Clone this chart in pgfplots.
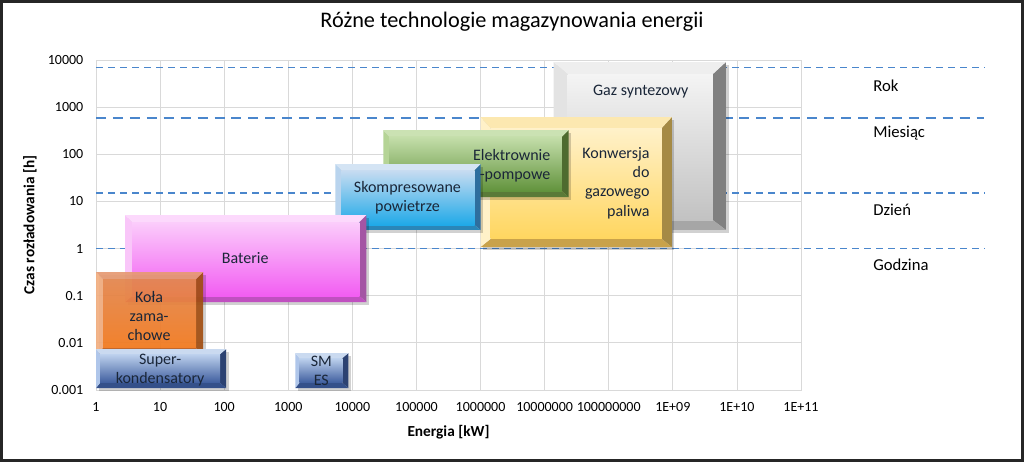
\documentclass[border=0pt]{standalone}
\usepackage{pgfplots}
\pgfplotsset{compat=1.18}
\usepackage{fontspec}
\setmainfont{Carlito}

\definecolor{gridc}{HTML}{D9D9D9}
\definecolor{dashc}{HTML}{4A86CC}
\definecolor{txt}{HTML}{1A2638}
% gaz syntezowy
\definecolor{gazT}{HTML}{F4F4F4}\definecolor{gazB}{HTML}{C2C2C2}
\definecolor{gazU}{HTML}{EEEEEE}\definecolor{gazL}{HTML}{E3E3E3}
\definecolor{gazR}{HTML}{808080}\definecolor{gazD}{HTML}{A6A6A6}
% konwersja
\definecolor{konT}{HTML}{FFF1CA}\definecolor{konB}{HTML}{FFD65F}
\definecolor{konU}{HTML}{FCE8B0}\definecolor{konL}{HTML}{FFF1C8}
\definecolor{konR}{HTML}{A58A45}\definecolor{konD}{HTML}{C9A24A}
% elektrownie pompowe
\definecolor{eleT}{HTML}{C4DEAA}\definecolor{eleB}{HTML}{62933D}
\definecolor{eleU}{HTML}{CBE2B3}\definecolor{eleL}{HTML}{B5D496}
\definecolor{eleR}{HTML}{4E6B2F}\definecolor{eleD}{HTML}{5A7A38}
% skompresowane powietrze
\definecolor{skoT}{HTML}{C8DCF1}\definecolor{skoB}{HTML}{1FA9E8}
\definecolor{skoU}{HTML}{D4E4F4}\definecolor{skoL}{HTML}{B9D4EE}
\definecolor{skoR}{HTML}{2E6E9E}\definecolor{skoD}{HTML}{2A86B8}
% baterie
\definecolor{batT}{HTML}{FBCDFB}\definecolor{batB}{HTML}{F25DF2}
\definecolor{batU}{HTML}{FCD9FC}\definecolor{batL}{HTML}{F9C6F9}
\definecolor{batR}{HTML}{A455A4}\definecolor{batD}{HTML}{C050C0}
% kola zamachowe
\definecolor{kolT}{HTML}{E6884F}\definecolor{kolB}{HTML}{F57B1E}
\definecolor{kolU}{HTML}{E69A72}\definecolor{kolL}{HTML}{F2AE80}
\definecolor{kolR}{HTML}{A24E12}\definecolor{kolD}{HTML}{C06020}
% superkondensatory / SMES
\definecolor{supT}{HTML}{BED2EE}\definecolor{supB}{HTML}{3E5D9E}
\definecolor{supU}{HTML}{CADAF0}\definecolor{supL}{HTML}{AFC6EA}
\definecolor{supR}{HTML}{2C4272}\definecolor{supD}{HTML}{34508A}

\tikzset{
  gazO/.style={}, konO/.style={}, eleO/.style={}, skoO/.style={},
  batO/.style={}, kolO/.style={fill opacity=0.92}, supO/.style={},
  boxtxt/.style={font=\fontsize{12}{14.4}\selectfont, text=txt, inner sep=0pt},
  sidetxt/.style={font=\fontsize{12.5}{15}\selectfont, anchor=west, inner sep=0pt},
}

% outer x1,y1,x2,y2 ; inner a1,b1,a2,b2 ; colour prefix
\newcommand{\bevbox}[9]{%
  \addplot[draw=none, fill=black, fill opacity=0.18, xshift=2pt, yshift=-2pt]
    coordinates {(#1,#2) (#3,#2) (#3,#4) (#1,#4)};
  \addplot[draw=none, fill=#9R, #9O] coordinates {(#3,#2) (#3,#4) (#7,#8) (#7,#6)};
  \addplot[draw=none, fill=#9D, #9O] coordinates {(#1,#2) (#3,#2) (#7,#6) (#5,#6)};
  \addplot[draw=none, fill=#9L, #9O] coordinates {(#1,#2) (#5,#6) (#5,#8) (#1,#4)};
  \addplot[draw=none, fill=#9U, #9O] coordinates {(#1,#4) (#3,#4) (#7,#8) (#5,#8)};
  \addplot[draw=none, top color=#9T, bottom color=#9B, #9O]
    coordinates {(#5,#6) (#7,#6) (#7,#8) (#5,#8)};
}

\begin{document}
\begin{tikzpicture}
\useasboundingbox (0,0) rectangle (768pt,346.5pt);
\fill[white] (0,0) rectangle (768pt,346.5pt);

\begin{axis}[
    at={(72pt,54pt)}, anchor=south west,
    scale only axis, width=528.75pt, height=247.5pt,
    xmode=log, ymode=log,
    xmin=1, xmax=1e11, ymin=0.001, ymax=10000,
    xtick={1,10,100,1000,10000,100000,1000000,1e7,1e8,1e9,1e10,1e11},
    xticklabels={1,10,100,1000,10000,100000,1000000,10000000,100000000,1E+09,1E+10,1E+11},
    ytick={0.001,0.01,0.1,1,10,100,1000,10000},
    yticklabels={0.001,0.01,0.1,1,10,100,1000,10000},
    minor xtick={}, minor ytick={},
    grid=major, major grid style={draw=gridc, line width=0.6pt},
    axis line style={draw=gridc, line width=0.6pt},
    tick style={draw=none},
    tick label style={font=\fontsize{10.5}{12}\selectfont},
    xticklabel style={yshift=-6pt},
    yticklabel style={xshift=-6pt},
    xlabel={\textbf{Energia [kW]}},
    ylabel={\textbf{Czas rozładowania [h]}},
    label style={font=\fontsize{11.5}{13}\selectfont},
    xlabel style={at={(axis description cs:0.5,-0.1293)}, anchor=center},
    ylabel style={at={(axis description cs:-0.0936,0.5)}, anchor=center},
    clip=false,
]
% poziome linie: rok, miesiac, dzien, godzina
\addplot[draw=dashc, line width=1pt, dash pattern=on 5.2pt off 3.8pt] coordinates {(1,7000) (7.24e13,7000)};
\addplot[draw=dashc, line width=1.6pt, dash pattern=on 7.5pt off 5.2pt] coordinates {(1,600) (7.24e13,600)};
\addplot[draw=dashc, line width=1pt, dash pattern=on 5.2pt off 3.8pt] coordinates {(1,15) (7.24e13,15)};
\addplot[draw=dashc, line width=1pt, dash pattern=on 5.2pt off 3.8pt] coordinates {(1,1) (7.24e13,1)};

\bevbox{1.38e7}{2.48}{6.73e9}{9070}{2.29e7}{4.03}{4.22e9}{5040}{gaz}
\bevbox{1e6}{1.08}{9.64e8}{618}{1.43e6}{1.60}{6.73e8}{361}{kon}
\bevbox{3.05e4}{12.4}{2.37e7}{327}{3.79e4}{16.6}{1.85e7}{233}{ele}
\bevbox{5420}{2.48}{1e6}{62.2}{6730}{3.16}{8.05e5}{46.4}{sko}
\bevbox{2.84}{0.0735}{16550}{5.15}{3.65}{0.0986}{12860}{3.66}{bat}
\bevbox{1}{0.0055}{47}{0.318}{1.286}{0.0078}{36.5}{0.226}{kol}
\bevbox{1}{0.0011}{107}{0.0074}{1.155}{0.00141}{86.6}{0.00579}{sup}
\bevbox{1285}{0.0011}{8660}{0.00608}{1486}{0.00141}{6980}{0.00476}{sup}

\node[boxtxt] at (axis cs:3.16e8,2094) {Gaz syntezowy};
\node[boxtxt, align=right, anchor=east] at (axis cs:4.37e8,24.6) {Konwersja\\do\\gazowego\\paliwa};
\node[boxtxt, align=right, anchor=east] at (axis cs:1.24e7,57.8) {Elektrownie\\-pompowe};
\node[boxtxt, align=center] at (axis cs:7.23e4,11.8) {Skompresowane\\powietrze};
\node[boxtxt] at (axis cs:213,0.63) {Baterie};
\node[boxtxt, align=center] at (axis cs:6.73,0.037) {Koła\\zama-\\chowe};
\node[boxtxt, align=center] at (axis cs:10,0.00265) {Super-\\kondensatory};
\node[boxtxt, align=center] at (axis cs:3280,0.00253) {SM\\ES};

\node[sidetxt] at (axis cs:1.33e12,2806) {Rok};
\node[sidetxt] at (axis cs:1.33e12,283) {Miesiąc};
\node[sidetxt] at (axis cs:1.33e12,6.58) {Dzień};
\node[sidetxt] at (axis cs:1.33e12,0.448) {Godzina};
\end{axis}

\node[font=\fontsize{16.7}{20}\selectfont] at (384pt,330pt) {Różne technologie magazynowania energii};
\draw[line width=2pt, black!85] (1pt,1pt) rectangle (767pt,345.5pt);
\end{tikzpicture}
\end{document}
